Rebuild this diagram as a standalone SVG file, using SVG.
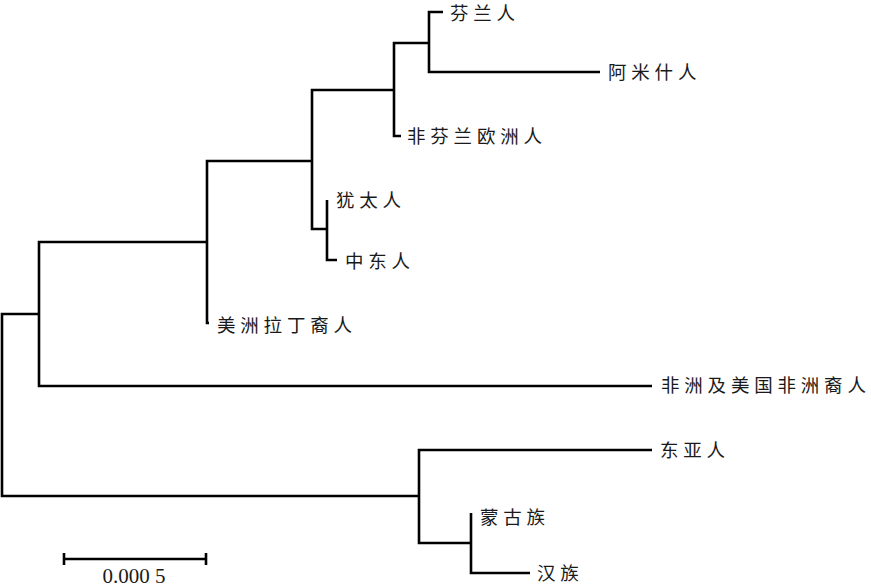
<svg xmlns="http://www.w3.org/2000/svg" width="871" height="587" viewBox="0 0 871 587">
<style>
.br{fill:none;stroke:#000;stroke-width:2.6;stroke-linejoin:miter;stroke-linecap:butt}
.lb{font-family:"Noto Sans CJK SC","Noto Sans CJK JP",sans-serif;font-size:18.5px;letter-spacing:4.8px;fill:#1a1a1a}
.sc{font-family:"Liberation Serif",serif;font-size:21px;fill:#1a1a1a}
</style>
<rect width="871" height="587" fill="#fff"/>
<g id="connectors">
<path class="br" d="M39,314 H2 V496 H419"/>
<path class="br" d="M207,242 H39 V386 H652"/>
<path class="br" d="M312,161 H207 V323 H209"/>
<path class="br" d="M394,90 H312 V229 H327"/>
<path class="br" d="M429,43 H394 V136 H401"/>
<path class="br" d="M443,12 H429 V72 H600"/>
<path class="br" d="M327,200 V260 H337"/>
<path class="br" d="M652,450 H419 V543 H471"/>
<path class="br" d="M471,513 V573 H530"/>
</g>
<g id="n-fenlan"><text class="lb" x="450" y="19.5">芬兰人</text></g>
<g id="n-amish"><text class="lb" x="608" y="78.5">阿米什人</text></g>
<g id="n-nonfin"><text class="lb" x="407" y="142.5">非芬兰欧洲人</text></g>
<g id="n-jew"><text class="lb" x="336" y="206.5">犹太人</text></g>
<g id="n-mideast"><text class="lb" x="345" y="267.5">中东人</text></g>
<g id="n-latino"><text class="lb" x="217" y="331.5">美洲拉丁裔人</text></g>
<g id="n-africa"><text class="lb" x="661" y="391.5">非洲及美国非洲裔人</text></g>
<g id="n-eastasia"><text class="lb" x="660" y="456.5">东亚人</text></g>
<g id="n-mongol"><text class="lb" x="480" y="523.5">蒙古族</text></g>
<g id="n-han"><text class="lb" x="537" y="579.5">汉族</text></g>
<g id="scale">
<path class="br" d="M64,553 V565 M64,559 H206 M206,553 V565"/>
<text class="sc" x="134" y="583" text-anchor="middle">0.000 5</text>
</g>
</svg>
